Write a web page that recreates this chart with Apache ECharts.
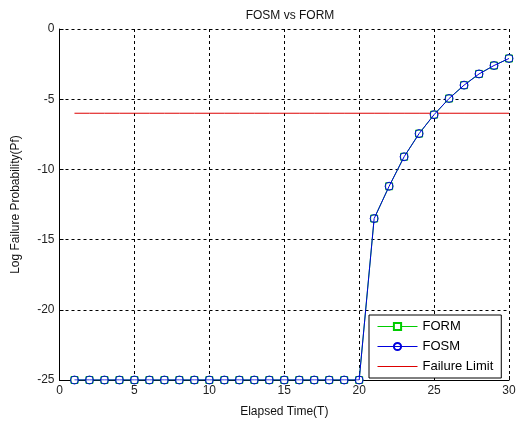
<!DOCTYPE html>
<html><head><meta charset="utf-8">
<script src="https://cdn.jsdelivr.net/npm/echarts@6/dist/echarts.min.js"></script>
<style>html,body{margin:0;padding:0;background:#fff}#c{width:520px;height:423px}</style>
</head><body><div id="c"></div>
<script>
var times = [1,2,3,4,5,6,7,8,9,10,11,12,13,14,15,16,17,18,19,20,21,22,23,24,25,26,27,28,29,30];
var formValues = [-25,-25,-25,-25,-25,-25,-25,-25,-25,-25,-25,-25,-25,-25,-25,-25,-25,-25,-25,-25,-13.5,-11.2,-9.1,-7.45,-6.1,-4.95,-4.0,-3.2,-2.6,-2.1];
var fosmValues = [-25,-25,-25,-25,-25,-25,-25,-25,-25,-25,-25,-25,-25,-25,-25,-25,-25,-25,-25,-25,-13.5,-11.2,-9.1,-7.45,-6.1,-4.95,-4.0,-3.2,-2.6,-2.1];
var failureLimit = -6;
var limitValues = times.map(function(){ return failureLimit; });

function pairs(xs, ys){ return xs.map(function(x,i){ return [x, ys[i]]; }); }

var chart = echarts.init(document.getElementById('c'));
var font = 'Liberation Sans, Arial, sans-serif';
chart.setOption({
  animation: false,
  backgroundColor: '#fff',
  textStyle: {fontFamily: font},
  title: {text: 'FOSM vs FORM', left: 285, textAlign: 'center', top: 5,
          textStyle: {fontSize: 12, fontWeight: 'normal', color: '#111', fontFamily: font}},
  grid: {left: 59.5, right: 11, top: 29, bottom: 39},
  xAxis: {type: 'value', min: 0, max: 30, interval: 5,
    name: 'Elapsed Time(T)', nameLocation: 'middle', nameGap: 26,
    nameTextStyle: {fontSize: 12, color: '#111', fontFamily: font},
    axisLine: {onZero: false, lineStyle: {color: '#000', width: 1}},
    axisTick: {inside: true, length: 4, lineStyle: {color: '#000'}},
    axisLabel: {fontSize: 12, color: '#222', margin: 5, fontFamily: font},
    splitLine: {show: true, lineStyle: {color: '#000', type: [3,3], width: 1}}},
  yAxis: {type: 'value', min: -25, max: 0, interval: 5,
    name: 'Log Failure Probability(Pf)', nameLocation: 'middle', nameGap: 38,
    nameTextStyle: {fontSize: 12, color: '#111', fontFamily: font},
    axisLine: {onZero: false, lineStyle: {color: '#000', width: 1}},
    axisTick: {inside: true, length: 4, lineStyle: {color: '#000'}},
    axisLabel: {fontSize: 12, color: '#222', margin: 5, fontFamily: font},
    splitLine: {show: true, lineStyle: {color: '#000', type: [3,3], width: 1}}},
  legend: {orient: 'vertical', left: 369, top: 315,
    backgroundColor: '#fff', borderColor: '#000', borderWidth: 1, borderRadius: 0,
    padding: [5, 8, 5, 8], itemGap: 7, itemWidth: 40, itemHeight: 9,
    lineStyle: {width: 1},
    textStyle: {fontSize: 13, color: '#000', fontFamily: font},
    data: ['FORM', 'FOSM', 'Failure Limit']},
  series: [
    {name: 'FORM', type: 'line', data: pairs(times, formValues),
     symbol: 'rect', symbolSize: 7, showAllSymbol: true,
     lineStyle: {color: '#00cc00', width: 1}, itemStyle: {color: '#fff', borderColor: '#00cc00', borderWidth: 1}, color: '#00cc00', z: 2},
    {name: 'FOSM', type: 'line', data: pairs(times, fosmValues),
     symbol: 'circle', symbolSize: 8, showAllSymbol: true,
     lineStyle: {color: '#0000dd', width: 1}, itemStyle: {color: 'rgba(255,255,255,0)', borderColor: '#0000dd', borderWidth: 1}, color: '#0000dd', z: 3},
    {name: 'Failure Limit', type: 'line', data: pairs(times, limitValues),
     symbol: 'rect', showSymbol: false, lineStyle: {color: '#dd0000', width: 1},
     itemStyle: {color: 'rgba(0,0,0,0)', borderColor: 'rgba(0,0,0,0)', borderWidth: 0}, z: 1}
  ]
});
</script></body></html>
